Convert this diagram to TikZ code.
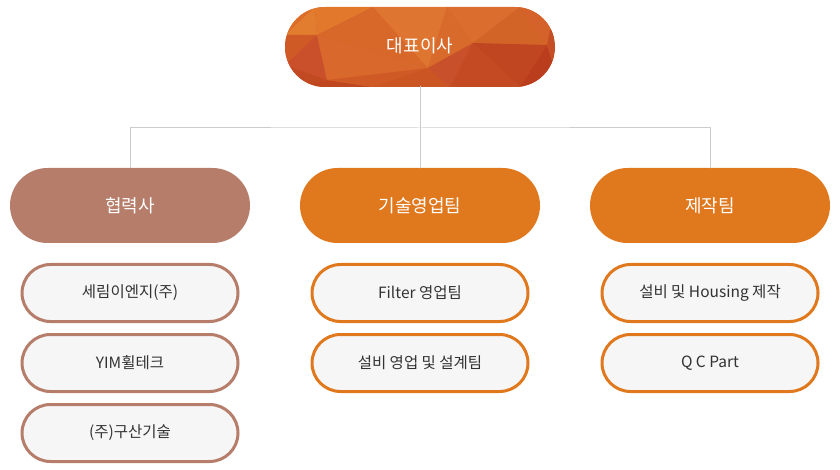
\documentclass[tikz,border=0pt]{standalone}
\usepackage{fontspec}
\setmainfont{Noto Sans CJK KR}
\usetikzlibrary{shapes.misc}
\definecolor{ceo}{HTML}{D6622A}
\definecolor{partner}{HTML}{B57D6A}
\definecolor{team}{HTML}{E0781E}
\definecolor{subfill}{HTML}{F6F6F6}
\definecolor{subtext}{HTML}{333333}
\definecolor{bus}{HTML}{CCCCCC}
\begin{document}
\begin{tikzpicture}[x=1pt,y=-1pt, line join=round, line cap=round,
	pill/.style={rounded rectangle, inner sep=0pt, text=white, font=\fontsize{18}{21}\selectfont},
	teambox/.style={pill, fill=#1, minimum width=240, minimum height=75},
	subbox/.style={pill, draw=#1, line width=3pt, fill=subfill, text=subtext, minimum width=216, minimum height=57, font=\fontsize{15.5}{18}\selectfont}]
	\def\xa{130} \def\xb{420} \def\xc{710} % tâm các cột
	\def\ybus{128} \def\yteam{205.5} \def\ysub{293} \def\dy{70}
	\useasboundingbox (0,0) rectangle (840,470);
	% đa giác nền của ô trên cùng
	\begin{scope}
		\clip[rounded corners=40] (285,7) rectangle (555,87);
		\fill[ceo] (285,7) rectangle (555,87);
		\fill[color={rgb,255:red,221;green,110;blue,42}] (285,7)--(315,7)--(285,35)--cycle;
		\fill[color={rgb,255:red,226;green,124;blue,46}] (315,7)--(317,35)--(285,35)--cycle;
		\fill[color={rgb,255:red,225;green,120;blue,44}] (315,7)--(373,7)--(317,35)--cycle;
		\fill[color={rgb,255:red,216;green,104;blue,42}] (373,7)--(428,68)--(317,35)--cycle;
		\fill[color={rgb,255:red,222;green,117;blue,48}] (373,7)--(447,7)--(428,68)--cycle;
		\fill[color={rgb,255:red,216;green,106;blue,44}] (447,7)--(473,43)--(428,68)--cycle;
		\fill[color={rgb,255:red,219;green,110;blue,46}] (447,7)--(520,7)--(473,43)--cycle;
		\fill[color={rgb,255:red,213;green,98;blue,42}] (520,7)--(555,7)--(547,45)--cycle;
		\fill[color={rgb,255:red,211;green,100;blue,40}] (520,7)--(547,45)--(473,43)--cycle;
		\fill[color={rgb,255:red,207;green,90;blue,38}] (285,35)--(317,35)--(285,65)--cycle;
		\fill[color={rgb,255:red,201;green,80;blue,42}] (317,35)--(327,80)--(285,65)--cycle;
		\fill[color={rgb,255:red,217;green,104;blue,44}] (317,35)--(428,68)--(327,80)--cycle;
		\fill[color={rgb,255:red,194;green,74;blue,34}] (285,65)--(327,80)--(285,87)--cycle;
		\fill[color={rgb,255:red,192;green,70;blue,31}] (327,80)--(373,87)--(285,87)--cycle;
		\fill[color={rgb,255:red,208;green,90;blue,38}] (327,80)--(428,68)--(373,87)--cycle;
		\fill[color={rgb,255:red,204;green,85;blue,36}] (373,87)--(428,68)--(450,87)--cycle;
		\fill[color={rgb,255:red,200;green,80;blue,42}] (428,68)--(473,43)--(450,87)--cycle;
		\fill[color={rgb,255:red,195;green,74;blue,34}] (473,43)--(520,87)--(450,87)--cycle;
		\fill[color={rgb,255:red,191;green,70;blue,32}] (473,43)--(547,45)--(520,87)--cycle;
		\fill[color={rgb,255:red,186;green,62;blue,30}] (547,45)--(555,70)--(520,87)--cycle;
		\fill[color={rgb,255:red,197;green,78;blue,36}] (547,45)--(555,7)--(555,70)--cycle;
		\fill[color={rgb,255:red,184;green,58;blue,28}] (555,70)--(555,87)--(520,87)--cycle;
	\end{scope}
	\node[pill, minimum width=270, minimum height=80] (ceo) at (\xb,46) {대표이사};
	% các nhóm
	\node[teambox=partner] (partner) at (\xa,\yteam) {협력사};
	\node[teambox=team] (sales) at (\xb,\yteam) {기술영업팀};
	\node[teambox=team] (make) at (\xc,\yteam) {제작팀};
	\coordinate (bus) at (\xb,\ybus);
	\draw[bus, line width=1pt] (ceo.south)--(bus) (partner.north)|-(bus)-|(make.north) (bus)--(sales.north);
	% các ô con
	\foreach \t [count=\i] in {{세림이엔지(주)},{YIM휠테크},{(주)구산기술}}
		\node[subbox=partner] (partner\i) at (\xa,\ysub+\dy*\i-\dy) {\t};
	\foreach \t [count=\i] in {{Filter 영업팀},{설비 영업 및 설계팀}}
		\node[subbox=team] (sales\i) at (\xb,\ysub+\dy*\i-\dy) {\t};
	\foreach \t [count=\i] in {{설비 및 Housing 제작},{Q C Part}}
		\node[subbox=team] (make\i) at (\xc,\ysub+\dy*\i-\dy) {\t};
\end{tikzpicture}
\end{document}
